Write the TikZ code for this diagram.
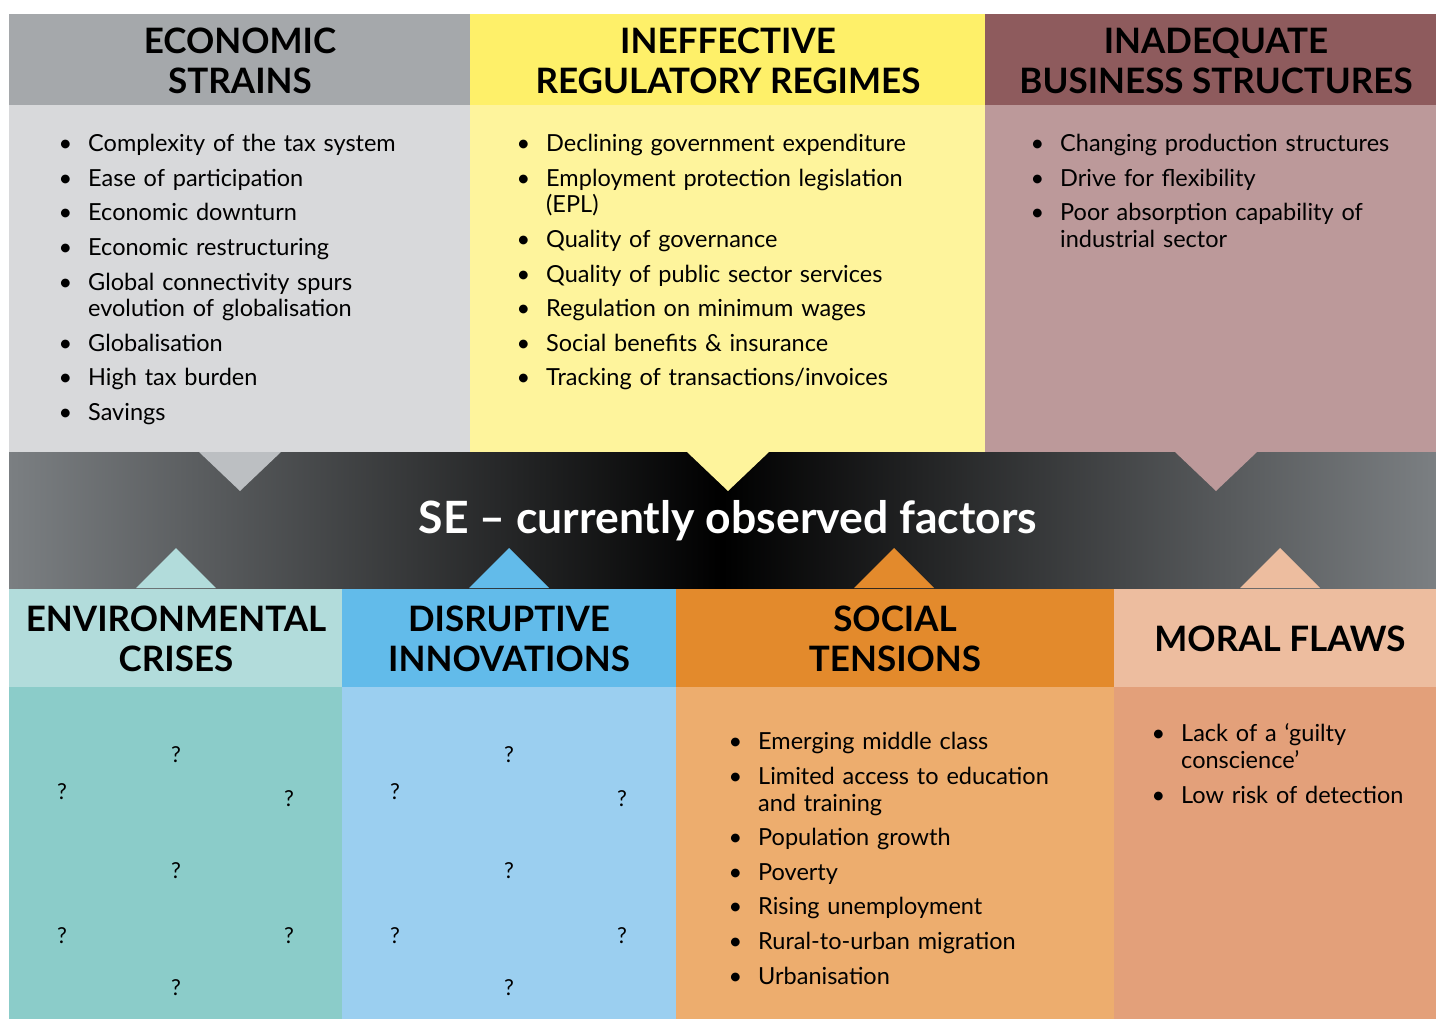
\documentclass[tikz,border=0pt]{standalone}
\usepackage{fontspec}
\setmainfont{Lato}
\usepackage{enumitem}
\definecolor{econhead}{HTML}{A5A8AB}
\definecolor{econbody}{HTML}{D8D9DB}
\definecolor{econtip}{HTML}{BCBFC2}
\definecolor{reghead}{HTML}{FEF069}
\definecolor{regbody}{HTML}{FEF49C}
\definecolor{bushead}{HTML}{8E5B5D}
\definecolor{busbody}{HTML}{BC999A}
\definecolor{envhead}{HTML}{B2DCDB}
\definecolor{envbody}{HTML}{8BCCC9}
\definecolor{dishead}{HTML}{62BBEA}
\definecolor{disbody}{HTML}{9BCFF0}
\definecolor{sochead}{HTML}{E38A2C}
\definecolor{socbody}{HTML}{EDAD6E}
\definecolor{morhead}{HTML}{EDBD9F}
\definecolor{morbody}{HTML}{E3A07A}
\definecolor{bandgray}{HTML}{7B7F82}
\newcommand{\factorlist}[1]{%
  \begin{itemize}[leftmargin=24pt, labelsep=16pt, itemsep=8pt, topsep=0pt, parsep=0pt, partopsep=0pt]
  #1
  \end{itemize}}
\begin{document}
\begin{tikzpicture}[x=1pt, y=-1pt,
	headtext/.style={align=center, inner sep=0pt, font=\fontsize{35}{40}\selectfont\bfseries},
	listbox/.style={anchor=north west, inner sep=0pt, text width=#1, font=\fontsize{23.5}{26.6}\selectfont},
	qmark/.style={inner sep=0pt, font=\fontsize{22}{24}\selectfont}]
	\useasboundingbox (0,0) rectangle (1436,1019);
	
	% Top Row Boxes
	\fill[econhead] (9,14) rectangle (470,105);
	\fill[econbody] (9,105) rectangle (470,452);
	\fill[reghead] (470,14) rectangle (985,105);
	\fill[regbody] (470,105) rectangle (985,452);
	\fill[bushead] (985,14) rectangle (1436,105);
	\fill[busbody] (985,105) rectangle (1436,452);
	
	% Bottom Row Boxes
	\fill[envhead] (9,588) rectangle (342,687);
	\fill[envbody] (9,687) rectangle (342,1019);
	\fill[dishead] (342,588) rectangle (676,687);
	\fill[disbody] (342,687) rectangle (676,1019);
	\fill[sochead] (676,588) rectangle (1114,687);
	\fill[socbody] (676,687) rectangle (1114,1019);
	\fill[morhead] (1114,588) rectangle (1436,687);
	\fill[morbody] (1114,687) rectangle (1436,1019);
	
	% Central band
	\shade[left color=bandgray, right color=bandgray, middle color=black] (9,452) rectangle (1436,588);
	
	% Pointers into the band
	\fill[econtip] (199,452) -- (281,452) -- (240,491) -- cycle; % economic
	\fill[regbody] (687,452) -- (769,452) -- (728,491) -- cycle; % regulatory
	\fill[busbody] (1175,452) -- (1257,452) -- (1216,491) -- cycle; % business
	\fill[envhead] (136,588) -- (216,588) -- (176,548) -- cycle; % environmental
	\fill[dishead] (469,588) -- (549,588) -- (509,548) -- cycle; % disruptive
	\fill[sochead] (854,588) -- (934,588) -- (894,548) -- cycle; % social
	\fill[morhead] (1240,588) -- (1320,588) -- (1280,548) -- cycle; % moral
	
	\node[text=white, inner sep=0pt, font=\fontsize{44.5}{48}\selectfont\bfseries] (se) at (728,521) {SE -- currently observed factors};
	
	% Headers
	\node[headtext] (econ) at (240,61) {ECONOMIC\\STRAINS};
	\node[headtext] (reg) at (728,61) {INEFFECTIVE\\REGULATORY REGIMES};
	\node[headtext] (bus) at (1216,61) {INADEQUATE\\BUSINESS STRUCTURES};
	\node[headtext] (env) at (176,639) {ENVIRONMENTAL\\CRISES};
	\node[headtext] (dis) at (509,639) {DISRUPTIVE\\INNOVATIONS};
	\node[headtext] (soc) at (895,639) {SOCIAL\\TENSIONS};
	\node[headtext] (mor) at (1280,639) {MORAL FLAWS};
	
	% Lists
	\node[listbox=380] (econlist) at (64,125) {\factorlist{
		\item Complexity of the tax system
		\item Ease of participation
		\item Economic downturn
		\item Economic restructuring
		\item Global connectivity spurs\newline evolution of globalisation
		\item Globalisation
		\item High tax burden
		\item Savings}};
	\node[listbox=440] (reglist) at (522,125) {\factorlist{
		\item Declining government expenditure
		\item Employment protection legislation\newline (EPL)
		\item Quality of governance
		\item Quality of public sector services
		\item Regulation on minimum wages
		\item Social benefits \& insurance
		\item Tracking of transactions/invoices}};
	\node[listbox=400] (buslist) at (1036,125) {\factorlist{
		\item Changing production structures
		\item Drive for flexibility
		\item Poor absorption capability of\newline industrial sector}};
	\node[listbox=400] (soclist) at (734,723) {\factorlist{
		\item Emerging middle class
		\item Limited access to education\newline and training
		\item Population growth
		\item Poverty
		\item Rising unemployment
		\item Rural-to-urban migration
		\item Urbanisation}};
	\node[listbox=270] (morlist) at (1157,715) {\factorlist{
		\item Lack of a ‘guilty\newline conscience’
		\item Low risk of detection}};
	
	% Open questions
	\foreach \dx/\col in {0/env, 333/dis} {
		\node[qmark] (\col q1) at (176+\dx,755) {?};
		\node[qmark] (\col q2) at (62+\dx,792) {?};
		\node[qmark] (\col q3) at (289+\dx,799) {?};
		\node[qmark] (\col q4) at (176+\dx,871) {?};
		\node[qmark] (\col q5) at (62+\dx,936) {?};
		\node[qmark] (\col q6) at (289+\dx,936) {?};
		\node[qmark] (\col q7) at (176+\dx,988) {?};
	}
\end{tikzpicture}
\end{document}
